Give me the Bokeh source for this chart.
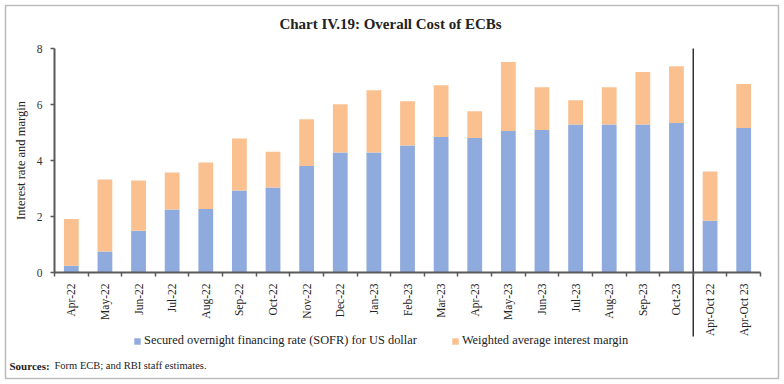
import math
from bokeh.plotting import figure
from bokeh.models import FixedTicker, Range1d, Legend, LegendItem, Label, BoxAnnotation
from bokeh.embed import file_html
from bokeh.resources import INLINE

categories = ["Apr-22", "May-22", "Jun-22", "Jul-22", "Aug-22", "Sep-22", "Oct-22",
              "Nov-22", "Dec-22", "Jan-23", "Feb-23", "Mar-23", "Apr-23", "May-23",
              "Jun-23", "Jul-23", "Aug-23", "Sep-23", "Oct-23", "Apr-Oct 22", "Apr-Oct 23"]
sofr = [0.24, 0.75, 1.49, 2.25, 2.27, 2.93, 3.04, 3.80, 4.29, 4.29, 4.54, 4.84, 4.80,
        5.05, 5.09, 5.29, 5.29, 5.29, 5.34, 1.85, 5.16]
margin = [1.67, 2.57, 1.80, 1.32, 1.66, 1.86, 1.27, 1.67, 1.72, 2.22, 1.58, 1.85, 0.96,
          2.47, 1.53, 0.86, 1.33, 1.87, 2.03, 1.76, 1.57]
n_monthly = 19
y_ticks = [0, 2, 4, 6, 8]
y_max = 8
series_names = ["Secured overnight financing rate (SOFR) for US dollar",
                "Weighted average interest margin"]
colors = ["#8FAADC", "#FAC090"]

FONT = "Liberation Serif"
AXC = "#595959"
TXT = "#222222"

n = len(categories)
xs = [i + 0.5 for i in range(n)]

# layout in pixels (figure coordinates)
W, H = 780, 380
X0, Y0 = 54, 272            # pixel position of data origin
PX = 706 / n                # px per category
PY = 224 / y_max            # px per unit

def dx(px):
    return (px - X0) / PX

def dy(py):
    return (Y0 - py) / PY

p = figure(width=W, height=H, output_backend="svg", toolbar_location=None,
           x_range=Range1d(dx(0), dx(W)), y_range=Range1d(dy(H), dy(0)),
           min_border=0)
p.title.visible = False
p.outline_line_color = None
p.grid.grid_line_color = None
p.background_fill_color = "white"

# outer border
p.add_layout(BoxAnnotation(left=dx(5), right=dx(778), top=dy(5), bottom=dy(378),
                           fill_color=None, line_color="#262626", line_width=1.6))

data = dict(x=xs, sofr=sofr, margin=margin)
rs = p.vbar_stack(["sofr", "margin"], x="x", width=0.44, color=colors, source=data,
                  line_color=None)

# x axis
xa = p.xaxis[0]
xa.fixed_location = 0
xa.bounds = (0, n)
xa.ticker = FixedTicker(ticks=xs, minor_ticks=list(range(n + 1)))
xa.major_label_overrides = {x: c for x, c in zip(xs, categories)}
xa.major_label_orientation = math.pi / 2
xa.major_tick_in = 0
xa.major_tick_out = 0
xa.minor_tick_in = 0
xa.minor_tick_out = 4
xa.minor_tick_line_color = AXC
xa.minor_tick_line_width = 1.5
xa.axis_line_color = AXC
xa.axis_line_width = 2
xa.major_label_text_font = FONT
xa.major_label_text_font_size = "11.5px"
xa.major_label_text_color = TXT
xa.major_label_standoff = 7

# y axis
ya = p.yaxis[0]
ya.fixed_location = 0
ya.bounds = (0, y_max)
ya.ticker = FixedTicker(ticks=y_ticks)
ya.major_tick_in = 0
ya.major_tick_out = 4
ya.major_tick_line_color = AXC
ya.major_tick_line_width = 1.5
ya.minor_tick_line_color = None
ya.axis_line_color = AXC
ya.axis_line_width = 2
ya.major_label_text_font = FONT
ya.major_label_text_font_size = "11.5px"
ya.major_label_text_color = "#333333"
ya.major_label_standoff = 8
ya.axis_label = "Interest rate and margin"
ya.axis_label_text_font = FONT
ya.axis_label_text_font_size = "12.5px"
ya.axis_label_text_font_style = "normal"
ya.axis_label_text_color = TXT
ya.axis_label_standoff = 6

# separator between monthly and period bars
p.segment(x0=[n_monthly], y0=[y_max], x1=[n_monthly], y1=[dy(336)],
          line_color="#333333", line_width=1.5)

# title
p.add_layout(Label(x=dx(390), y=dy(23), text="Chart IV.19: Overall Cost of ECBs",
                   text_font=FONT, text_font_size="15px", text_font_style="bold",
                   text_align="center", text_baseline="middle", text_color=TXT))

# legend
legend = Legend(items=[LegendItem(label=series_names[0], renderers=[rs[0]]),
                       LegendItem(label=series_names[1], renderers=[rs[1]])],
                orientation="horizontal", location=(133, 32))
legend.glyph_width = 8
legend.glyph_height = 8
legend.label_standoff = 3
legend.spacing = 34
legend.padding = 4
legend.margin = 0
legend.border_line_color = None
legend.background_fill_alpha = 0
legend.label_text_font = FONT
legend.label_text_font_size = "12.4px"
legend.label_text_color = TXT
p.add_layout(legend)

# sources
p.add_layout(Label(x=dx(9), y=dy(365), text="Sources:",
                   text_font=FONT, text_font_size="11px", text_font_style="bold",
                   text_baseline="middle", text_color=TXT))
p.add_layout(Label(x=dx(54), y=dy(365), text="Form ECB; and RBI staff estimates.",
                   text_font=FONT, text_font_size="10.5px",
                   text_baseline="middle", text_color=TXT))

open("out.html", "w").write(file_html(p, INLINE))
